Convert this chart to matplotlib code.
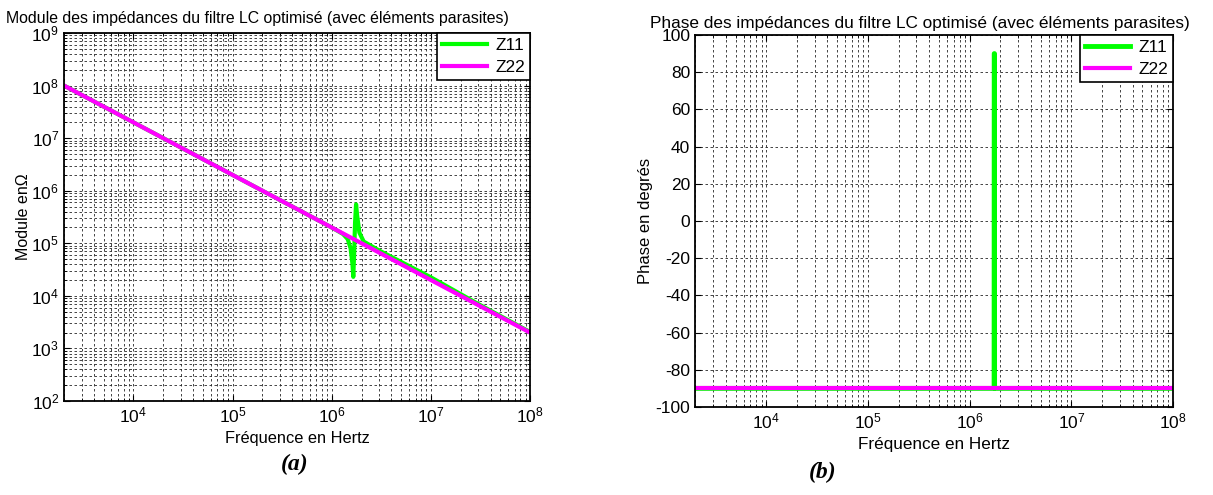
import numpy as np
import matplotlib
matplotlib.use("Agg")
import matplotlib.pyplot as plt
from matplotlib.ticker import LogLocator, FixedLocator, NullFormatter

plt.rcParams['font.family'] = ['Liberation Sans', 'DejaVu Sans']
plt.rcParams['mathtext.fontset'] = 'custom'
plt.rcParams['mathtext.rm'] = 'Liberation Sans'
plt.rcParams['mathtext.it'] = 'Liberation Sans:italic'
plt.rcParams['axes.unicode_minus'] = False

# Module data (Hz, Ohm)
freq_z22 = [2e3, 1e4, 1e5, 1e6, 1e7, 1e8]
mod_z22 = [1e8, 2e7, 2e6, 2e5, 2e4, 2e3]

freq_z11 = [2e3, 1e4, 1e5, 1e6, 1.3e6, 1.45e6, 1.55e6, 1.62e6, 1.65e6, 1.68e6,
            1.72e6, 1.76e6, 1.8e6, 1.9e6, 2.1e6, 3e6, 1e7, 3e7, 1e8]
mod_z11 = [1e8, 2e7, 2e6, 2e5, 1.5e5, 1.2e5, 8e4, 4e4, 2.3e4, 6e4,
           2.5e5, 5.5e5, 3.5e5, 1.6e5, 1.08e5, 7.3e4, 2.25e4, 7.0e3, 2.05e3]

# Phase data (Hz, degrees)
freq_ph11 = [2e3, 1.74e6, 1.745e6, 1.755e6, 1.76e6, 1e8]
phase_z11 = [-90, -90, 90, 90, -90, -90]
freq_ph22 = [2e3, 1e8]
phase_z22 = [-90, -90]

green = '#00ff00'
magenta = '#ff00ff'
grid_kw = dict(color='0.15', linestyle=(0, (3, 3)), linewidth=0.6)

fig = plt.figure(figsize=(12.13, 4.95), dpi=100)
ax1 = fig.add_axes([0.0528, 0.1899, 0.3842, 0.7434])
ax2 = fig.add_axes([0.5730, 0.1778, 0.3941, 0.7515])

# (a) module
ax1.loglog(freq_z11, mod_z11, color=green, lw=3, label='Z11')
ax1.loglog(freq_z22, mod_z22, color=magenta, lw=3, label='Z22')
ax1.set_xlim(2e3, 1e8)
ax1.set_ylim(1e2, 1e9)
ax1.xaxis.set_major_locator(FixedLocator([1e4, 1e5, 1e6, 1e7, 1e8]))
ax1.yaxis.set_major_locator(FixedLocator([10.0 ** k for k in range(2, 10)]))
for axis in (ax1.xaxis, ax1.yaxis):
    axis.set_minor_locator(LogLocator(base=10, subs=np.arange(2, 10), numticks=20))
    axis.set_minor_formatter(NullFormatter())
ax1.grid(True, which='both', **grid_kw)
ax1.set_title('Module des impédances du filtre LC optimisé (avec éléments parasites)',
              fontsize=11.4, x=0.416, pad=7)
ax1.set_xlabel('Fréquence en Hertz', fontsize=11.8)
ax1.set_ylabel('Module enΩ', fontsize=11.5, labelpad=0)

# (b) phase
ax2.semilogx(freq_ph11, phase_z11, color=green, lw=3.5, label='Z11')
ax2.semilogx(freq_ph22, phase_z22, color=magenta, lw=3, label='Z22')
ax2.set_xlim(2e3, 1e8)
ax2.set_ylim(-100, 100)
ax2.xaxis.set_major_locator(FixedLocator([1e4, 1e5, 1e6, 1e7, 1e8]))
ax2.xaxis.set_minor_locator(LogLocator(base=10, subs=np.arange(2, 10), numticks=20))
ax2.xaxis.set_minor_formatter(NullFormatter())
ax2.set_yticks(np.arange(-100, 101, 20))
ax2.grid(True, which='major', **grid_kw)
ax2.grid(True, which='minor', axis='x', **grid_kw)
ax2.set_title('Phase des impédances du filtre LC optimisé (avec éléments parasites)',
              fontsize=12.4, x=0.47, pad=5)
ax2.set_xlabel('Fréquence en Hertz', fontsize=12.3)
ax2.set_ylabel('Phase en degrés', fontsize=12, labelpad=2)

for ax in (ax1, ax2):
    ax.set_axisbelow(True)
    ax.tick_params(which='both', direction='in', top=True, right=True, labelsize=12.5)
    ax.tick_params(which='major', length=4)
    ax.tick_params(which='minor', length=2.5)
    for sp in ax.spines.values():
        sp.set_linewidth(1.3)
    leg = ax.legend(loc='upper right', fontsize=12.5, fancybox=False, framealpha=1,
                    edgecolor='black', borderaxespad=0, handlelength=2.6,
                    handletextpad=0.45, borderpad=0.3, labelspacing=0.35)
    leg.get_frame().set_linewidth(1.2)

fig.text(0.243, 0.05, '(a)', fontsize=17, fontweight='bold', style='italic',
         family='Liberation Serif', ha='center')
fig.text(0.678, 0.035, '(b)', fontsize=17, fontweight='bold', style='italic',
         family='Liberation Serif', ha='center')

fig.savefig('out.png', dpi=100)
